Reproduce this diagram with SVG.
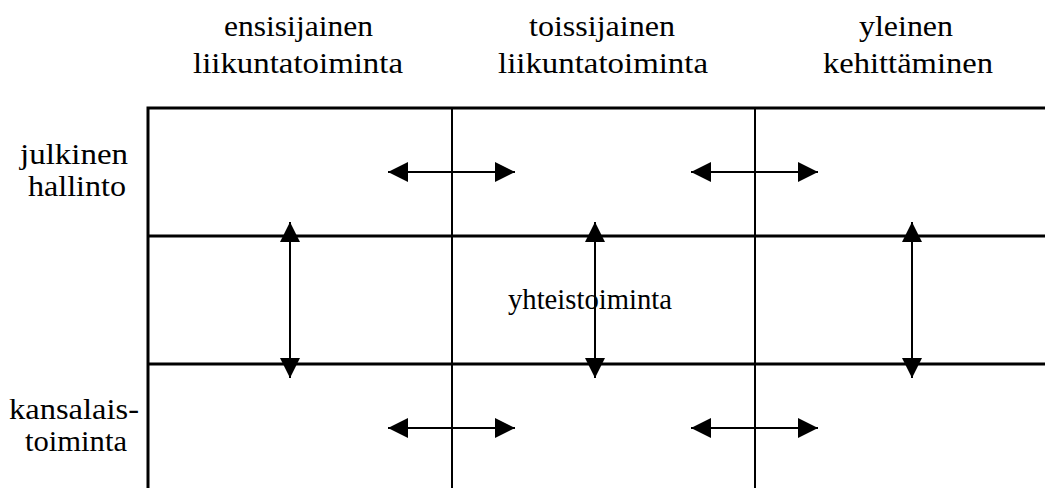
<svg xmlns="http://www.w3.org/2000/svg" width="1045" height="488" viewBox="0 0 1045 488">
<style>
.t{font-family:"Liberation Serif","DejaVu Serif",serif;font-size:29px;fill:#000;text-anchor:middle}
.b{stroke:#000;stroke-width:3;fill:none}
.g{stroke:#000;stroke-width:2;fill:none}
.a{stroke:#000;stroke-width:2;fill:none;marker-start:url(#m);marker-end:url(#m)}
</style>
<defs>
<marker id="m" viewBox="0 0 20 20" refX="20" refY="10" markerWidth="20" markerHeight="20" markerUnits="userSpaceOnUse" orient="auto-start-reverse">
<path d="M0,0 L20,10 L0,20 Z" fill="#000"/>
</marker>
</defs>
<rect width="1045" height="488" fill="#fff"/>
<g id="grid">
<path class="b" d="M148,496 V108 H1050"/>
<path class="b" d="M148,236 H1050 M148,364 H1050"/>
<path class="g" d="M452,108 V496 M755,108 V496"/>
</g>
<g id="col1"><text class="t" x="298.5" y="36" textLength="149" lengthAdjust="spacingAndGlyphs">ensisijainen</text><text class="t" x="298" y="73" textLength="210" lengthAdjust="spacingAndGlyphs">liikuntatoiminta</text></g>
<g id="col2"><text class="t" x="602" y="36" textLength="146" lengthAdjust="spacingAndGlyphs">toissijainen</text><text class="t" x="603" y="73" textLength="210" lengthAdjust="spacingAndGlyphs">liikuntatoiminta</text></g>
<g id="col3"><text class="t" x="906" y="36" textLength="94" lengthAdjust="spacingAndGlyphs">yleinen</text><text class="t" x="908" y="73" textLength="170" lengthAdjust="spacingAndGlyphs">kehittäminen</text></g>
<g id="row1"><text class="t" x="74" y="164" textLength="108" lengthAdjust="spacingAndGlyphs">julkinen</text><text class="t" x="77" y="196" textLength="98" lengthAdjust="spacingAndGlyphs">hallinto</text></g>
<g id="row3"><text class="t" x="74" y="419" textLength="130" lengthAdjust="spacingAndGlyphs">kansalais-</text><text class="t" x="76" y="451" textLength="102" lengthAdjust="spacingAndGlyphs">toiminta</text></g>
<g id="mid"><text class="t" x="590" y="309" textLength="164" lengthAdjust="spacingAndGlyphs">yhteistoiminta</text></g>
<g id="connectors">
<line class="a" x1="388" y1="172" x2="515" y2="172"/>
<line class="a" x1="691" y1="172" x2="818" y2="172"/>
<line class="a" x1="388" y1="428" x2="515" y2="428"/>
<line class="a" x1="691" y1="428" x2="818" y2="428"/>
<line class="a" x1="290" y1="222" x2="290" y2="378"/>
<line class="a" x1="595" y1="222" x2="595" y2="378"/>
<line class="a" x1="912" y1="222" x2="912" y2="378"/>
</g>
</svg>
